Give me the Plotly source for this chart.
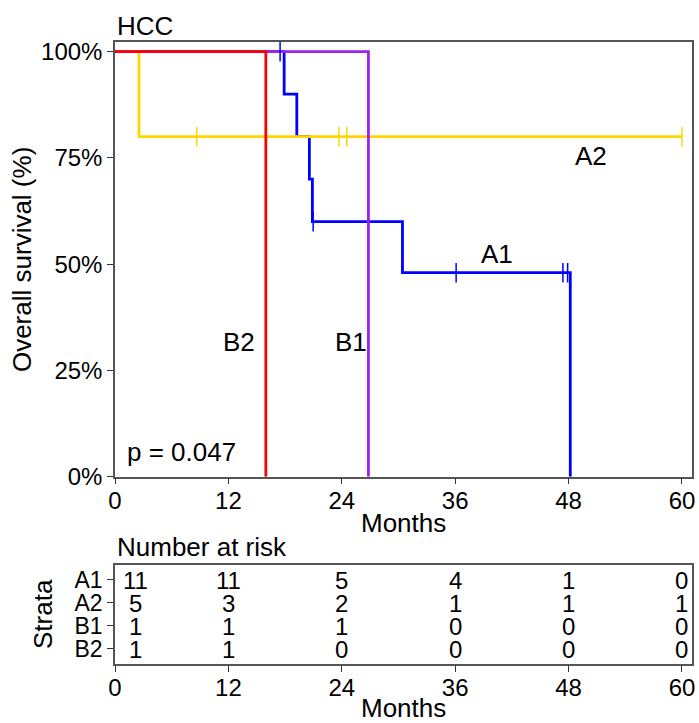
import plotly.graph_objects as go

# ---------------- data ----------------
groups = ["A1", "A2", "B1", "B2"]
colors = {"A1": "#0000FF", "A2": "#FFD700", "B1": "#A020F0", "B2": "#FF0000"}

# follow-up times (months) and status (1 = death, 0 = censored)
times = {
    "A1": [17.47, 17.9, 19.24, 20.57, 20.89, 20.97, 30.42, 36.1, 47.4, 47.9, 48.18],
    "A2": [2.54, 8.65, 23.69, 24.53, 60.0],
    "B1": [26.82],
    "B2": [15.96],
}
status = {
    "A1": [0, 1, 1, 1, 1, 0, 1, 0, 0, 0, 1],
    "A2": [1, 0, 0, 0, 0],
    "B1": [1],
    "B2": [1],
}

risk_times = [0, 12, 24, 36, 48, 60]
risk_counts = {
    "A1": [11, 11, 5, 4, 1, 0],
    "A2": [5, 3, 2, 1, 1, 1],
    "B1": [1, 1, 1, 0, 0, 0],
    "B2": [1, 1, 0, 0, 0, 0],
}

label_pos = {"A1": (40.4, 0.525), "A2": (50.4, 0.754), "B1": (25.0, 0.318), "B2": (13.1, 0.318)}
pvalue_text = "p = 0.047"
y_tickvals = [0, 0.25, 0.5, 0.75, 1.0]
y_ticktext = ["0%", "25%", "50%", "75%", "100%"]
x_ticks = [0, 12, 24, 36, 48, 60]


def km(t, s):
    pairs = sorted(zip(t, s), key=lambda p: (p[0], -p[1]))
    n = len(pairs)
    surv = 1.0
    xs, ys = [0.0], [1.0]
    cx, cy = [], []
    i = 0
    while i < len(pairs):
        ti = pairs[i][0]
        d = sum(1 for p in pairs if p[0] == ti and p[1] == 1)
        c = sum(1 for p in pairs if p[0] == ti and p[1] == 0)
        if d > 0:
            xs.append(ti); ys.append(surv)
            surv = surv * (n - d) / n
            xs.append(ti); ys.append(surv)
        if c > 0:
            cx.append(ti); cy.append(surv)
        n -= d + c
        i += d + c
    last = max(t)
    if xs[-1] < last:
        xs.append(last); ys.append(surv)
    return xs, ys, cx, cy


fig = go.Figure()
FONT = "Liberation Sans, Arial, sans-serif"
censor_traces = []
for g in groups:
    xs, ys, cx, cy = km(times[g], status[g])
    fig.add_trace(go.Scatter(x=xs, y=ys, mode="lines", line=dict(color=colors[g], width=2.8),
                             showlegend=False, xaxis="x", yaxis="y"))
    censor_traces.append(go.Scatter(x=cx, y=cy, mode="markers",
                                    marker=dict(symbol="line-ns-open", size=14, color=colors[g],
                                                line=dict(color=colors[g], width=1.5)),
                                    showlegend=False, xaxis="x", yaxis="y"))
for tr in censor_traces:
    fig.add_trace(tr)


def txt(size):
    return dict(size=size, color="black", family=FONT)


annotations = []
for g in groups:
    lx, ly = label_pos[g]
    annotations.append(dict(x=lx, y=ly, xref="x", yref="y", text=g, showarrow=False, font=txt(26)))
annotations.append(dict(x=1.06, y=0.057, xref="x", yref="y", text=pvalue_text, showarrow=False,
                        xanchor="left", font=txt(26)))

row_y = {"A1": 4, "A2": 3, "B1": 2, "B2": 1}
for g in groups:
    for t, c in zip(risk_times, risk_counts[g]):
        annotations.append(dict(x=t, y=row_y[g], xref="x2", yref="y2", text=str(c),
                                showarrow=False, xshift=20 if t == 0 else 0, height=22,
                                font=txt(24)))

# titles (placed in paper coordinates)
annotations += [
    dict(x=0, y=1.026, xref="paper", yref="paper", text="HCC", showarrow=False,
         xanchor="left", yanchor="middle", font=txt(26)),
    dict(x=0, y=0.188, xref="paper", yref="paper", text="Number at risk", showarrow=False,
         xanchor="left", yanchor="middle", font=txt(26)),
    dict(x=0.5, y=0.2267, xref="paper", yref="paper", text="Months", showarrow=False,
         xanchor="center", yanchor="middle", font=txt(26)),
    dict(x=0.5, y=-0.0707, xref="paper", yref="paper", text="Months", showarrow=False,
         xanchor="center", yanchor="middle", font=txt(26)),
    dict(x=-0.1612, y=0.651, xref="paper", yref="paper", text="Overall survival (%)",
         showarrow=False, textangle=-90, xanchor="center", yanchor="middle", font=txt(26)),
    dict(x=-0.1248, y=0.0804, xref="paper", yref="paper", text="Strata",
         showarrow=False, textangle=-90, xanchor="center", yanchor="middle", font=txt(26)),
]

axis_common = dict(showgrid=False, zeroline=False, showline=True, mirror=True,
                   linecolor="#555555", linewidth=1.5, ticks="outside", ticklen=6,
                   tickcolor="#333333", tickwidth=1, automargin=False)

fig.update_layout(
    width=699, height=723,
    margin=dict(l=115, r=7, t=42, b=59, autoexpand=False),
    plot_bgcolor="white", paper_bgcolor="white",
    font=dict(family=FONT, color="black"),
    xaxis=dict(domain=[0, 1], range=[0, 61.06], tickvals=x_ticks, anchor="y",
               tickfont=txt(24), ticklabelstandoff=-4, **axis_common),
    yaxis=dict(domain=[0.3011, 1.0], range=[0, 1.0228], tickvals=y_tickvals, ticktext=y_ticktext,
               anchor="x", tickfont=txt(24), **axis_common),
    xaxis2=dict(domain=[0, 1], range=[0, 61.06], tickvals=x_ticks, anchor="y2",
                tickfont=txt(24), ticklabelstandoff=-5, **axis_common),
    yaxis2=dict(domain=[0, 0.1592], range=[0.348, 4.652], tickvals=[4, 3, 2, 1],
                ticktext=["A1", "A2", "B1", "B2"], anchor="x2", tickfont=txt(23), **axis_common),
    annotations=annotations,
)
# invisible trace to activate the risk-table axes
fig.add_trace(go.Scatter(x=[0], y=[1], mode="markers", marker=dict(opacity=0),
                         showlegend=False, hoverinfo="skip", xaxis="x2", yaxis="y2"))

fig.write_html("out.html")
